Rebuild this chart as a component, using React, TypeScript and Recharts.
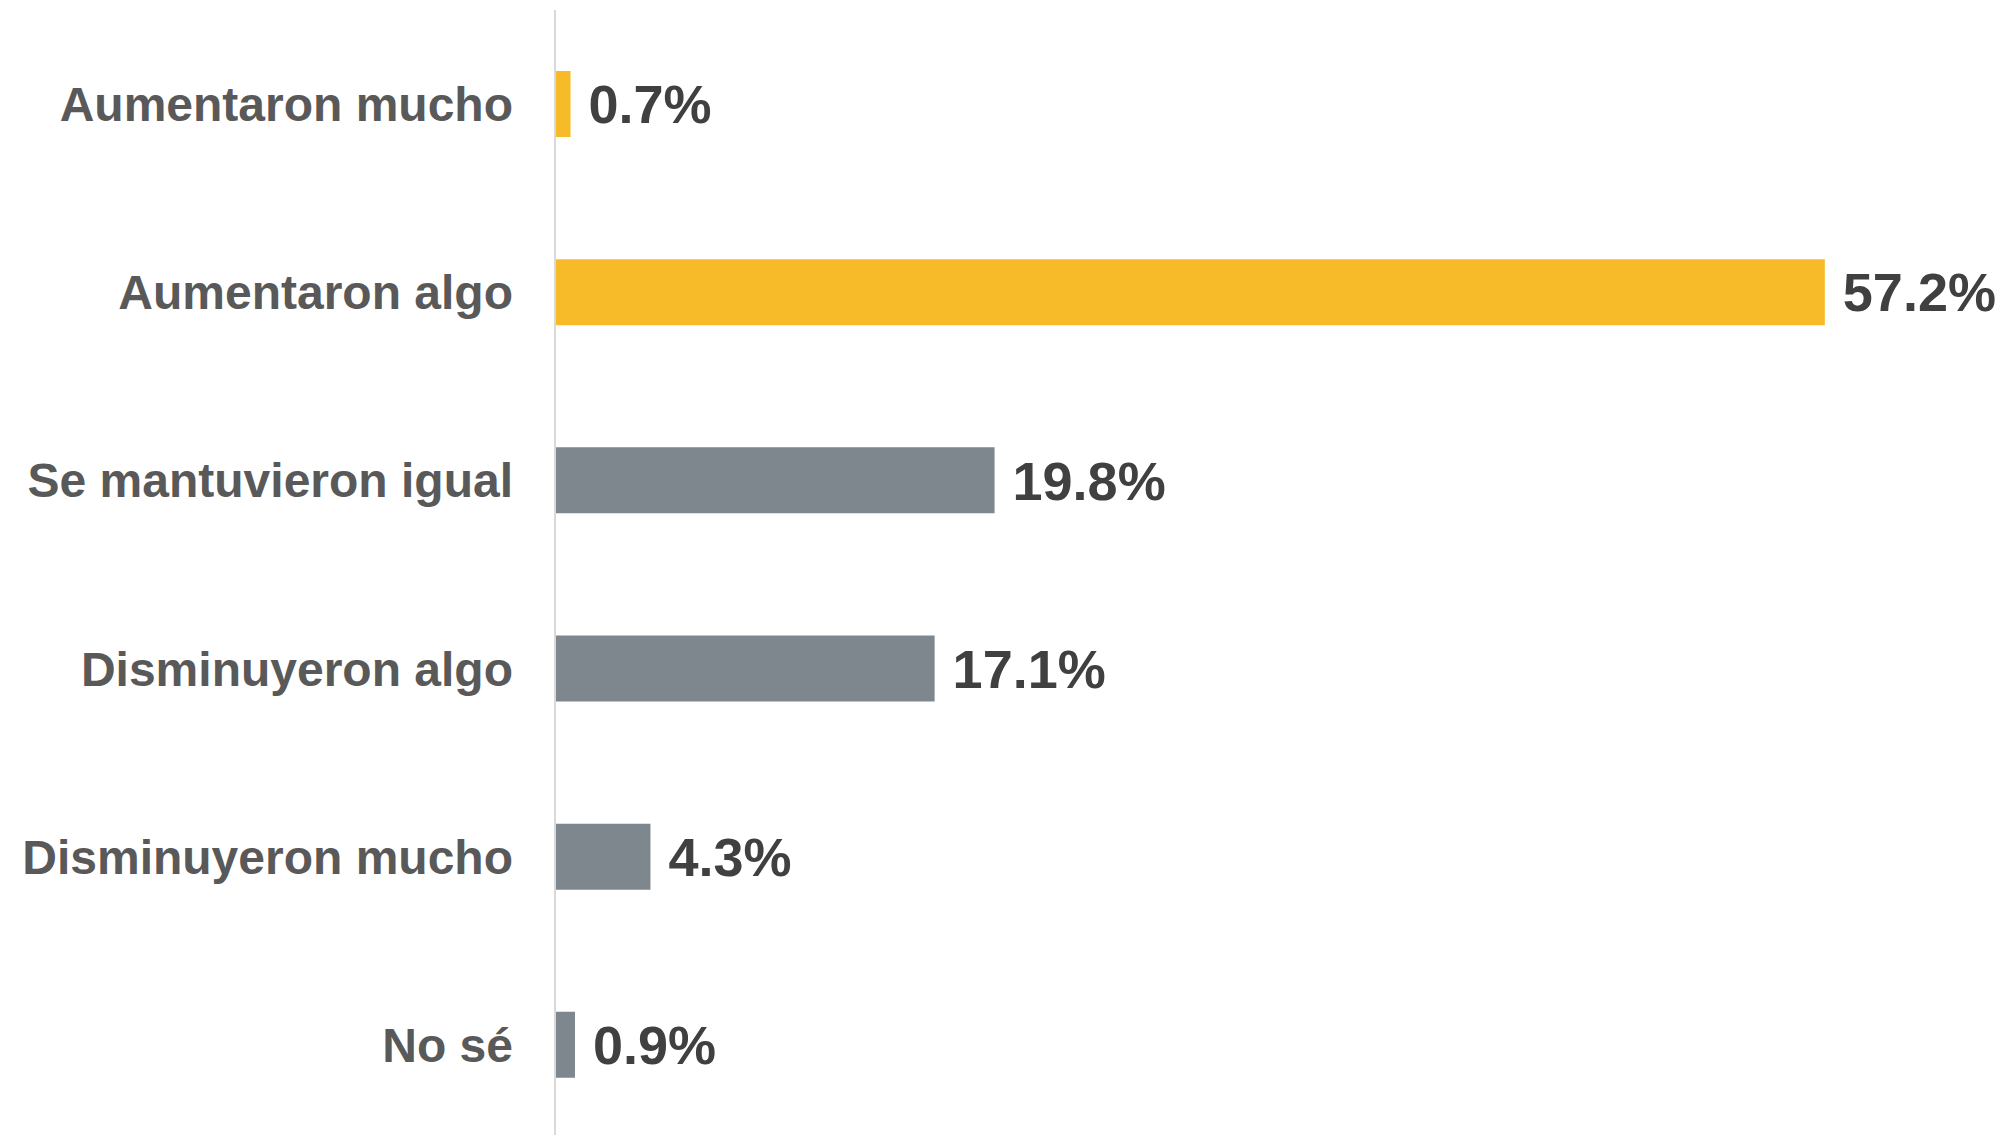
import React from "react";
import { BarChart, Bar, XAxis, YAxis, Cell, LabelList } from "recharts";

const categories = [
  "Aumentaron mucho",
  "Aumentaron algo",
  "Se mantuvieron igual",
  "Disminuyeron algo",
  "Disminuyeron mucho",
  "No sé",
];
const values = [0.7, 57.2, 19.8, 17.1, 4.3, 0.9];
const colors = ["#F7BB29", "#F7BB29", "#7D878D", "#7D878D", "#7D878D", "#7D878D"];

const data = categories.map((c, i) => ({ name: c, value: values[i] }));

const FONT = "'Liberation Sans', Arial, Helvetica, sans-serif";

const CategoryTick = (props: any) => {
  const { y, payload } = props;
  return (
    <text
      x={555 - 42}
      y={y}
      dy="0.355em"
      textAnchor="end"
      fill="#595959"
      fontFamily={FONT}
      fontWeight="bold"
      fontSize={48}
    >
      {payload.value}
    </text>
  );
};

export default function App() {
  return (
    <div style={{ position: "absolute", left: 0, top: 0, background: "#fff" }}>
      <BarChart
        width={2001}
        height={1139}
        data={data}
        layout="vertical"
        margin={{ top: 10, right: 114, bottom: 0, left: 0 }}
        barCategoryGap={0}
      >
        <XAxis type="number" domain={[0, 60]} hide />
        <YAxis
          type="category"
          dataKey="name"
          width={555}
          tickLine={false}
          axisLine={{ stroke: "#D9D9D9", strokeWidth: 2 }}
          tick={<CategoryTick />}
          interval={0}
        />
        <Bar dataKey="value" barSize={66} isAnimationActive={false}>
          {data.map((d, i) => (
            <Cell key={d.name} fill={colors[i]} />
          ))}
          <LabelList
            dataKey="value"
            position="right"
            offset={18}
            formatter={(v: any) => `${Number(v).toFixed(1)}%`}
            fill="#404040"
            fontFamily={FONT}
            fontWeight="bold"
            fontSize={54}
          />
        </Bar>
      </BarChart>
    </div>
  );
}
